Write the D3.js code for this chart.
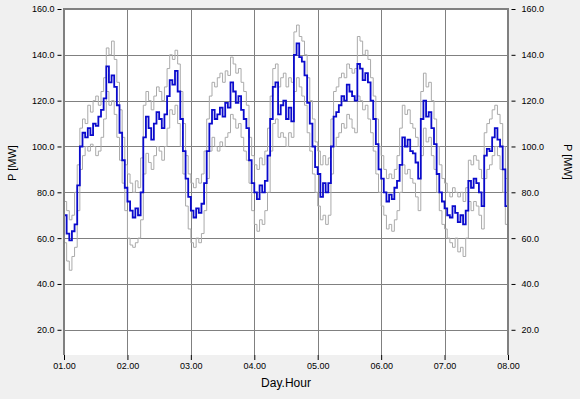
<!DOCTYPE html>
<html>
<head>
<meta charset="utf-8">
<script src="https://cdn.jsdelivr.net/npm/d3@7"></script>
<style>
  html, body { margin: 0; padding: 0; background: #f0f0f0; }
  svg { display: block; font-family: "Liberation Sans", Arial, sans-serif; }
</style>
</head>
<body>
<div id="chart"></div>
<script>
// hourly load, 7 days (index = hour since 01.00)
const load = [
  70,62,59,63,66,83,100,106,104,108,105,110,109,113,116,121,135,128,131,126,118,106,94,82,
  76,72,69,73,70,80,104,113,108,103,110,115,112,108,114,122,129,127,133,124,112,98,86,78,
  72,69,73,71,75,84,98,110,116,112,114,117,113,119,117,128,124,119,122,116,112,108,94,84,
  80,77,83,80,85,96,112,126,128,114,118,120,112,117,111,140,145,139,137,131,119,110,100,91,
  88,78,84,80,84,100,113,115,118,122,120,127,124,122,120,136,134,129,132,128,120,112,101,90,
  86,80,76,79,77,82,85,92,104,100,103,98,97,93,86,112,120,113,115,108,101,88,80,76,
  73,70,69,74,71,67,70,66,72,85,82,86,84,80,74,96,99,98,104,108,103,100,90,74,70
];
const bandHigh = [
  76,72,68,70,80,92,108,112,110,118,115,120,122,118,124,130,143,140,146,138,128,116,104,92,
  88,84,80,85,82,95,118,124,120,116,122,126,124,120,126,134,140,138,142,136,124,110,96,88,
  84,82,86,84,88,98,112,122,128,126,130,132,128,133,131,139,136,132,134,128,124,118,104,96,
  92,90,95,92,98,108,122,134,136,126,130,132,126,130,128,150,153,148,146,140,130,120,112,102,
  98,92,96,92,95,112,124,126,130,132,130,136,134,132,134,148,146,140,142,138,130,122,112,100,
  96,90,86,88,86,90,96,108,118,114,116,110,108,104,100,124,132,126,128,120,112,100,92,86,
  84,80,78,82,80,78,80,76,82,94,92,96,94,90,86,106,110,112,116,118,114,110,100,86,80
];
const bandLow = [
  58,50,46,52,56,72,90,96,100,98,101,100,96,98,104,112,124,118,120,114,104,94,84,72,
  60,57,56,58,60,68,88,97,93,90,96,100,98,94,100,108,116,114,118,110,100,88,74,64,
  58,56,60,58,62,72,86,98,104,100,98,102,100,104,106,114,112,108,110,104,98,94,84,72,
  66,63,68,66,72,80,98,110,112,104,106,104,100,106,104,124,130,126,122,118,106,98,88,80,
  74,68,70,66,70,88,100,104,106,110,108,114,112,108,106,122,120,116,118,112,106,98,88,80,
  74,70,64,66,63,68,72,80,92,88,90,86,84,78,72,96,108,102,104,96,90,80,72,66,
  64,60,58,56,60,54,56,52,60,76,72,76,74,70,64,86,90,92,96,100,96,90,80,66,62
];
const dayTicks = [0, 24, 48, 72, 96, 120, 144, 168];
const dayLabels = ["01.00", "02.00", "03.00", "04.00", "05.00", "06.00", "07.00", "08.00"];
const pTicks = [20, 40, 60, 80, 100, 120, 140, 160];

const width = 580, height = 399;
const plotLeft = 64, plotRight = 508, plotTop = 9, plotBottom = 355;

const svg = d3.select("#chart").append("svg")
  .attr("width", width)
  .attr("height", height);

svg.append("rect")
  .attr("width", width).attr("height", height)
  .attr("fill", "#f0f0f0");

const x = d3.scaleLinear().domain([0, 168]).range([plotLeft, plotRight]);
const y = d3.scaleLinear().domain([9, 160]).range([plotBottom, plotTop]);

svg.append("rect")
  .attr("x", plotLeft).attr("y", plotTop)
  .attr("width", plotRight - plotLeft).attr("height", plotBottom - plotTop)
  .attr("fill", "#fff");

// grid
const grid = svg.append("g").attr("stroke", "#808080").attr("stroke-width", 1);
grid.selectAll(".gx").data(dayTicks).enter().append("line")
  .attr("x1", d => Math.round(x(d)) + 0.5).attr("x2", d => Math.round(x(d)) + 0.5)
  .attr("y1", plotTop).attr("y2", plotBottom);
grid.selectAll(".gy").data(pTicks).enter().append("line")
  .attr("x1", plotLeft).attr("x2", plotRight)
  .attr("y1", d => Math.round(y(d)) + 0.5).attr("y2", d => Math.round(y(d)) + 0.5);

// series
const line = d3.line()
  .x((d, i) => x(i))
  .y(d => y(d))
  .curve(d3.curveStepAfter);

const plot = svg.append("g");
plot.append("path").datum(bandHigh)
  .attr("d", line).attr("fill", "none")
  .attr("stroke", "#aaaaaa").attr("stroke-width", 1);
plot.append("path").datum(bandLow)
  .attr("d", line).attr("fill", "none")
  .attr("stroke", "#aaaaaa").attr("stroke-width", 1);
plot.append("path").datum(load)
  .attr("d", line).attr("fill", "none")
  .attr("stroke", "#0a0acc").attr("stroke-width", 1.8);

// frame
svg.append("path")
  .attr("d", `M${plotLeft},${plotBottom}V${plotTop}H${plotRight}V${plotBottom}`)
  .attr("fill", "none").attr("stroke", "#808080").attr("stroke-width", 2);

// axes
const fmt = d3.format(".1f");
const yLeft = svg.append("g")
  .attr("transform", `translate(${plotLeft - 2.5},0)`)
  .call(d3.axisLeft(y).tickValues(pTicks).tickFormat(fmt).tickSize(4).tickPadding(3));
const yRight = svg.append("g")
  .attr("transform", `translate(${plotRight + 3.5},0)`)
  .call(d3.axisRight(y).tickValues(pTicks).tickFormat(fmt).tickSize(4).tickPadding(6));
const xAxis = svg.append("g")
  .attr("transform", `translate(0,${plotBottom})`)
  .call(d3.axisBottom(x).tickValues(dayTicks).tickFormat((d, i) => dayLabels[i]).tickSize(5).tickPadding(3));

[yLeft, yRight, xAxis].forEach(a => {
  a.select(".domain").remove();
  a.selectAll(".tick line").attr("stroke", "#000");
  a.selectAll(".tick text")
    .attr("fill", "#000")
    .style("font-size", "9px")
    .style("font-family", "'Liberation Sans', Arial, sans-serif");
});

// axis titles
svg.append("text")
  .attr("transform", `translate(16,163) rotate(-90)`)
  .attr("text-anchor", "middle")
  .style("font-size", "11px")
  .text("P [MW]");
svg.append("text")
  .attr("transform", `translate(564,162) rotate(90)`)
  .attr("text-anchor", "middle")
  .style("font-size", "11px")
  .text("P [MW]");
svg.append("text")
  .attr("x", (plotLeft + plotRight) / 2).attr("y", 387)
  .attr("text-anchor", "middle")
  .style("font-size", "12px")
  .text("Day.Hour");
</script>
</body>
</html>
